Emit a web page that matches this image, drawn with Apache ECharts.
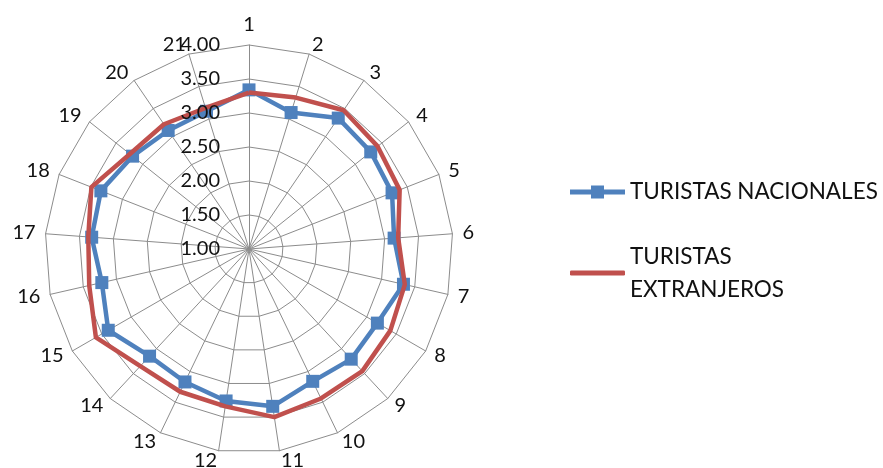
<!DOCTYPE html>
<html><head><meta charset="utf-8">
<script src="https://cdn.jsdelivr.net/npm/echarts@6/dist/echarts.min.js"></script>
<style>html,body{margin:0;padding:0;background:#fff}#c{width:883px;height:468px}</style>
</head><body><div id="c"></div>
<script>
const categories = ['1','2','3','4','5','6','7','8','9','10','11','12','13','14','15','16','17','18','19','20','21'];
const nacionales  = [3.34,3.10,3.33,3.29,3.26,3.14,3.33,3.18,3.21,3.16,3.34,3.26,3.17,3.15,3.39,3.22,3.32,3.34,3.19,3.11,3.12];
const extranjeros = [3.30,3.33,3.47,3.42,3.38,3.20,3.35,3.40,3.45,3.44,3.50,3.34,3.33,3.35,3.60,3.41,3.37,3.49,3.24,3.22,3.17];
const tickLabels = ['1.00','1.50','2.00','2.50','3.00','3.50','4.00'];
const axisMin = 1, axisMax = 4;
const seriesNames = ['TURISTAS NACIONALES', 'TURISTAS EXTRANJEROS'];

const FONT = 'Lato';
// ECharts radar goes counter-clockwise; reorder so categories run clockwise
const order = [0].concat(categories.map((_, i) => i).slice(1).reverse());
const reorder = arr => order.map(i => arr[i]);
const makeIndicator = withLabel => order.map((i, k) => {
  const o = { name: categories[i], min: axisMin, max: axisMax };
  if (withLabel && k === 0) o.axisLabel = { show: true };
  return o;
});

const radarBase = {
  center: [249, 249],
  radius: 204,
  startAngle: 90,
  splitNumber: tickLabels.length - 1,
  shape: 'polygon',
  axisNameGap: 10,
  splitArea: { show: false },
  axisTick: { show: false }
};

const chart = echarts.init(document.getElementById('c'), null, { renderer: 'canvas' });
chart.setOption({
  animation: false,
  backgroundColor: '#fff',
  radar: [
    Object.assign({}, radarBase, {
      z: 0,
      indicator: makeIndicator(false),
      axisName: { color: '#111', fontSize: 20, fontFamily: FONT },
      axisLine: { lineStyle: { color: '#8c8c8c', width: 1 } },
      splitLine: { lineStyle: { color: '#8c8c8c', width: 1 } },
      axisLabel: { show: false }
    }),
    // overlay radar carrying only the tick labels (drawn above the series)
    Object.assign({}, radarBase, {
      z: 10,
      indicator: makeIndicator(true),
      axisName: { show: false },
      axisLine: { show: false },
      splitLine: { show: false },
      axisLabel: {
        show: false, color: '#111', fontSize: 20, fontFamily: FONT, margin: 29,
        formatter: v => tickLabels[Math.round((v - axisMin) / 0.5)] ?? ''
      }
    })
  ],
  legend: [
    {
      data: [{ name: seriesNames[0], icon: 'path://M0,9H42V1H68V9H110V19H68V27H42V19H0Z' }],
      left: 570, top: 175.5, padding: 0,
      itemWidth: 55, itemHeight: 14,
      textStyle: { fontSize: 22.5, fontFamily: FONT, color: '#111', lineHeight: 33 }
    },
    {
      data: [{ name: seriesNames[1], icon: 'roundRect' }],
      left: 570, top: 223.5, padding: 0,
      itemWidth: 55, itemHeight: 5,
      formatter: n => n.replace(' ', '\n'),
      textStyle: { fontSize: 22.5, fontFamily: FONT, color: '#111', lineHeight: 33, padding: [33, 0, 0, 0] }
    }
  ],
  series: [
    {
      type: 'radar', name: seriesNames[0], radarIndex: 0, z: 2,
      symbol: 'rect', symbolSize: 13,
      itemStyle: { color: '#4F81BD' },
      lineStyle: { color: '#4F81BD', width: 4.5 },
      data: [{ name: seriesNames[0], value: reorder(nacionales) }]
    },
    {
      type: 'radar', name: seriesNames[1], radarIndex: 0, z: 3,
      symbol: 'none',
      itemStyle: { color: '#C0504D' },
      lineStyle: { color: '#C0504D', width: 4.5 },
      data: [{ name: seriesNames[1], value: reorder(extranjeros) }]
    }
  ]
});
</script></body></html>
